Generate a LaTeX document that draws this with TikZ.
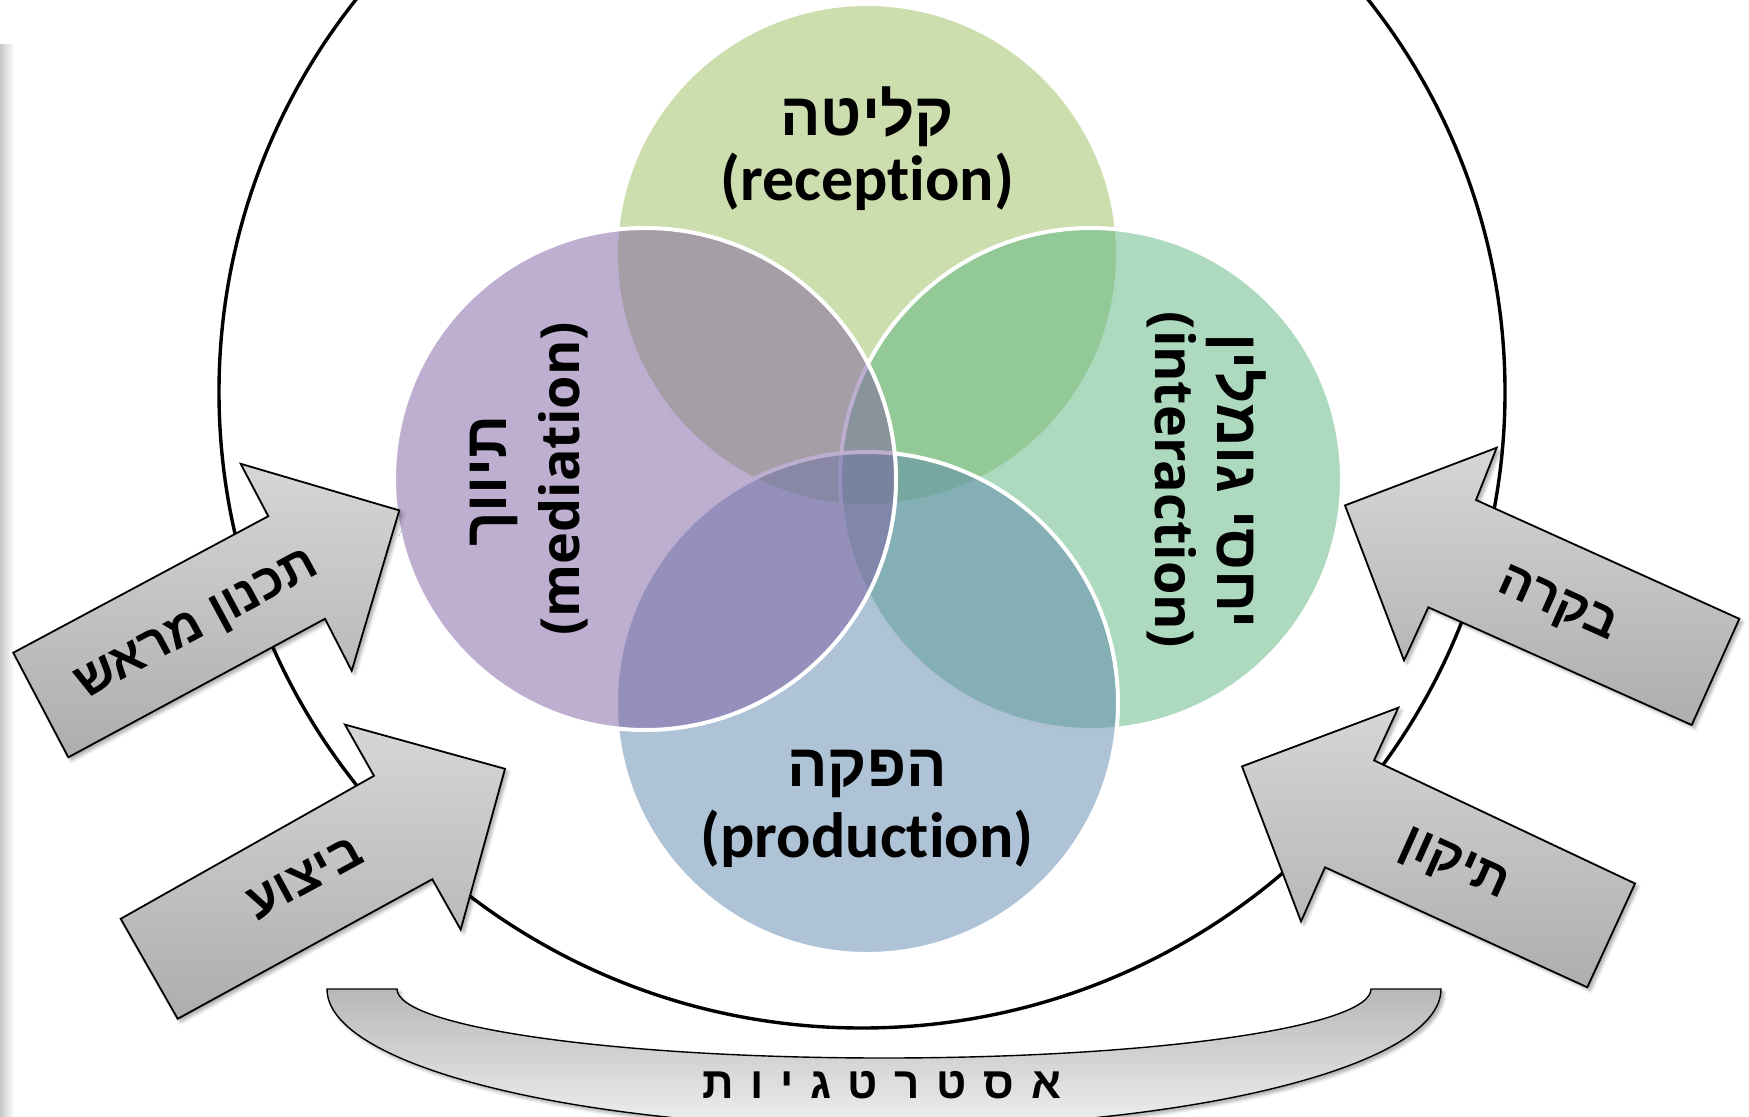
\documentclass[tikz,border=0pt]{standalone}
\usepackage{fontspec}
\usetikzlibrary{shadows.blur}
\TeXXeTstate=1
\newfontfamily\hebfont[Script=Hebrew]{Liberation Sans}
\newfontfamily\enfont[Ligatures=NoCommon]{Carlito}
\newfontfamily\ensans[Ligatures=NoCommon]{Open Sans}
\definecolor{cTop}{RGB}{155,189,93}
\definecolor{cRight}{RGB}{91,181,127}
\definecolor{cBottom}{RGB}{93,135,173}
\definecolor{cLeft}{RGB}{125,95,161}
\begin{document}
\begin{tikzpicture}[x=0.5pt,y=-0.5pt,
  venn/.style={fill opacity=0.5, draw=white, line width=2pt},
  blockarrow/.style={draw=black, line width=0.9pt, line join=miter, top color=black!16, bottom color=black!32,
     blur shadow={shadow xshift=1.5pt, shadow yshift=-1.5pt, shadow opacity=35, shadow blur steps=5}},
  band/.style={draw=black, line width=0.7pt, top color=black!28, bottom color=black!6,
     blur shadow={shadow xshift=1.5pt, shadow yshift=-1.5pt, shadow opacity=35, shadow blur steps=5}},
  heb/.style={font=\hebfont\bfseries\fontsize{30}{36}\selectfont, inner sep=0pt},
  eng/.style={font=\enfont\bfseries\fontsize{32}{38}\selectfont, inner sep=0pt},
  engrot/.style={font=\ensans\bfseries\fontsize{27}{32}\selectfont, inner sep=0pt},
  arrowtext/.style={font=\hebfont\bfseries\fontsize{25}{30}\selectfont, inner sep=0pt},
  bandtext/.style={font=\hebfont\bfseries\fontsize{22}{26}\selectfont, inner sep=0pt},
]
\useasboundingbox (0,0) rectangle (1749,1117);
\clip (0,0) rectangle (1749,1117);

% left page-edge shadow strip
\shade[left color=black!22, right color=white] (0,45) rectangle (14,1117);

% outer circle
\draw[line width=1.7pt] (862,392) ellipse [x radius=643, y radius=636];

% Venn circles (order: top, right, bottom, left)
\draw[venn, fill=cTop]    (867,255) circle [radius=251];
\draw[venn, fill=cRight]  (1091,479) circle [radius=251];
\draw[venn, fill=cBottom] (867,703) circle [radius=251];
\draw[venn, fill=cLeft]   (645,479) circle [radius=251];

% Venn labels
\node[heb] (recH) at (867,117) {\beginR קליטה\endR};
\node[eng] (recE) at (867,182) {(reception)};
\node[heb] (proH) at (867,774) {\beginR הפקה\endR};
\node[eng] (proE) at (867,839) {(production)};
\node[heb, rotate=90] (medH) at (494,481) {\beginR תיווך\endR};
\node[engrot, rotate=90] (medE) at (563,479) {(mediation)};
\node[heb, rotate=-90] (intH) at (1236,481) {\beginR יחסי גומלין\endR};
\node[engrot, rotate=-90] (intE) at (1172,480) {(interaction)};

% left arrows
\draw[blockarrow] (13.3,652.7) -- (268.3,516.2) -- (240.7,463.8) -- (399.3,510.4)
  -- (351.7,670.8) -- (325,618.8) -- (68.3,757.3) -- cycle;
\draw[blockarrow] (120.7,918.8) -- (374,775.8) -- (345,724.6) -- (505,768.8)
  -- (460.7,929.6) -- (432.3,879.2) -- (177.7,1018.8) -- cycle;
% right arrows
\draw[blockarrow] (1739.3,618.8) -- (1476,500) -- (1496.7,447.7) -- (1345,505.4)
  -- (1404,660.4) -- (1428.3,607.3) -- (1691.7,725) -- cycle;
\draw[blockarrow] (1635,883.5) -- (1374,760.4) -- (1398.3,707.7) -- (1242,766.4)
  -- (1301,921.4) -- (1325,867.3) -- (1587.3,987.3) -- cycle;

\node[arrowtext, rotate=28.3] (plan) at (198,627) {\beginR תכנון מראש\endR};
\node[arrowtext, rotate=28.5] (exec) at (305,878) {\beginR ביצוע\endR};
\node[arrowtext, rotate=-24.1] (ctrl) at (1557,606) {\beginR בקרה\endR};
\node[arrowtext, rotate=-24.1] (fix) at (1454,866) {\beginR תיקון\endR};

% bottom curved band
\path[band] (327,989) arc[start angle=180, end angle=0, x radius=557, y radius=139]
  -- (1371,989) arc[start angle=0, end angle=180, x radius=487, y radius=69] -- cycle;
\node[bandtext] (strat) at (882,1085) {\addfontfeatures{LetterSpace=38}\beginR אסטרטגיות\endR};
\end{tikzpicture}
\end{document}
